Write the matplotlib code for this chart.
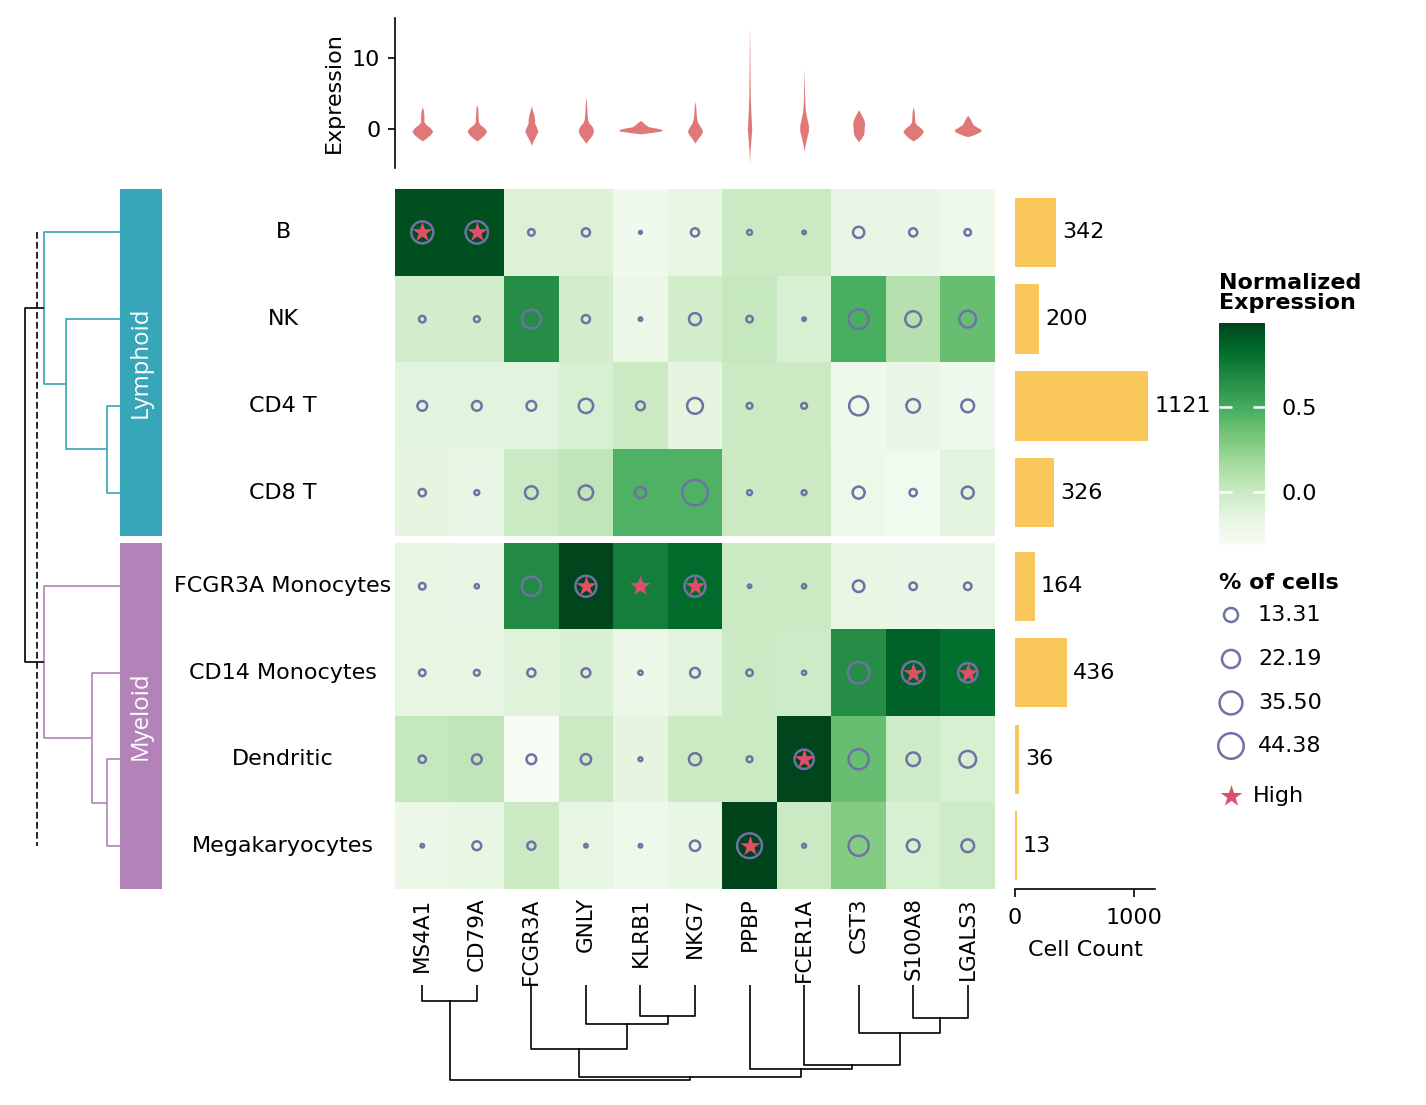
import numpy as np
import matplotlib
matplotlib.use("Agg")
import matplotlib.pyplot as plt
from matplotlib.colors import Normalize
from matplotlib.cm import ScalarMappable

W, H, DPI = 1426, 1105, 150

# ---- data ----
cells = ["B", "NK", "CD4 T", "CD8 T", "FCGR3A Monocytes", "CD14 Monocytes",
         "Dendritic", "Megakaryocytes"]
genes = ["MS4A1", "CD79A", "FCGR3A", "GNLY", "KLRB1", "NKG7", "PPBP",
         "FCER1A", "CST3", "S100A8", "LGALS3"]
groups = ["Lymphoid", "Myeloid"]
group_rows = [[0, 1, 2, 3], [4, 5, 6, 7]]
cell_count = [342, 200, 1121, 326, 164, 436, 36, 13]

expr = np.array([
    [0.94, 0.94, -0.10, -0.10, -0.25, -0.18, -0.01, -0.01, -0.19, -0.19, -0.23],
    [-0.05, -0.05, 0.65, -0.05, -0.21, -0.04, 0.02, -0.08, 0.48, 0.09, 0.38],
    [-0.14, -0.14, -0.14, -0.08, -0.01, -0.15, -0.01, -0.01, -0.23, -0.19, -0.25],
    [-0.15, -0.19, 0.00, 0.05, 0.46, 0.46, -0.01, -0.01, -0.22, -0.26, -0.14],
    [-0.17, -0.19, 0.67, 0.98, 0.73, 0.83, -0.01, 0.00, -0.18, -0.19, -0.19],
    [-0.17, -0.17, -0.12, -0.09, -0.21, -0.14, -0.01, -0.02, 0.65, 0.87, 0.81],
    [0.02, 0.05, -0.30, 0.00, -0.15, -0.01, -0.01, 0.98, 0.38, -0.02, -0.08],
    [-0.21, -0.18, -0.01, -0.17, -0.23, -0.18, 0.99, -0.01, 0.28, -0.08, -0.02],
])

pct = np.array([
    [33, 34, 2.9, 4.5, 0.5, 4.5, 1.6, 0.8, 8.5, 4.5, 2.9],
    [2.9, 2.3, 24.5, 4.5, 0.8, 9.8, 2.9, 0.8, 26.5, 17, 18.9],
    [6.4, 6.4, 6.4, 14, 5.3, 17, 2.3, 2.3, 24.5, 12.5, 11.1],
    [3.6, 1.6, 11, 14, 8.5, 44.38, 1.6, 1.6, 9.8, 3.6, 9.8],
    [2.9, 1.2, 25, 30, 4, 30, 0.8, 1.2, 9, 3.8, 3.8],
    [2.9, 2.3, 4.5, 5.3, 1.2, 6.4, 2.9, 1.2, 32, 35, 25.5],
    [3.6, 6.4, 6.4, 7.3, 1, 10, 2.3, 25.5, 27.5, 12.5, 19],
    [0.8, 5.3, 4.5, 0.8, 0.8, 7.3, 42, 1, 27.5, 11, 11],
])
pct_legend = [13.31, 22.19, 35.50, 44.38]

# (row, col) of cells marked "High"
high_cells = [(0, 0), (0, 1), (4, 3), (4, 4), (4, 5), (5, 9), (5, 10), (6, 7), (7, 6)]

# dendrograms: (left, right, distance) in linkage order
row_merges = [(2, 3, 13.3), (6, 7, 13.3), (5, 9, 28.3), (1, 8, 54),
              (0, 11, 76), (4, 10, 76), (12, 13, 95.3)]
row_link_group = [0, 1, 1, 0, 0, 1, None]
row_cut = 83.3
col_merges = [(0, 1, 16), (4, 5, 31), (3, 12, 39), (2, 13, 64), (9, 10, 33),
              (8, 15, 48), (7, 16, 80), (6, 17, 84), (14, 18, 92), (11, 19, 95)]

# violin outlines per gene: expression levels and half widths (column units)
violin_y = [
    [-1.7, -1.3, -0.8, -0.3, 0.2, 0.6, 1.0, 1.5, 2.0, 2.6, 3.1],
    [-1.7, -1.3, -0.8, -0.3, 0.2, 0.6, 1.0, 1.6, 2.4, 3.0, 3.4],
    [-2.3, -1.7, -1.0, -0.3, 0.3, 0.8, 1.3, 1.8, 2.4, 3.2],
    [-2.0, -1.4, -0.8, -0.2, 0.4, 0.9, 1.4, 2.2, 3.2, 4.5],
    [-0.7, -0.5, -0.3, -0.1, 0.1, 0.3, 0.6, 0.9, 1.2],
    [-2.0, -1.4, -0.8, -0.3, 0.3, 0.9, 1.5, 2.3, 3.1, 3.9],
    [-4.8, -3.0, -1.5, 0.0, 1.5, 3.0, 5.0, 8.0, 11.0, 14.4],
    [-3.1, -2.2, -1.2, -0.3, 0.5, 1.5, 2.5, 4.0, 6.0, 8.4],
    [-1.8, -1.3, -0.8, -0.3, 0.2, 0.8, 1.4, 2.0, 2.7],
    [-1.7, -1.3, -0.8, -0.3, 0.2, 0.6, 1.0, 1.6, 2.4, 3.1],
    [-1.1, -0.8, -0.4, -0.1, 0.2, 0.6, 1.0, 1.5, 1.9],
]
violin_w = [
    [0, 0.07, 0.15, 0.19, 0.14, 0.07, 0.03, 0.03, 0.03, 0.02, 0],
    [0, 0.07, 0.14, 0.18, 0.13, 0.06, 0.03, 0.025, 0.02, 0.015, 0],
    [0, 0.03, 0.08, 0.12, 0.09, 0.06, 0.06, 0.05, 0.03, 0],
    [0, 0.06, 0.12, 0.14, 0.11, 0.05, 0.03, 0.02, 0.015, 0],
    [0, 0.2, 0.38, 0.40, 0.30, 0.15, 0.09, 0.05, 0],
    [0, 0.05, 0.11, 0.14, 0.10, 0.05, 0.03, 0.02, 0.015, 0],
    [0, 0.01, 0.025, 0.04, 0.03, 0.02, 0.012, 0.008, 0.005, 0],
    [0, 0.02, 0.05, 0.08, 0.08, 0.05, 0.025, 0.012, 0.007, 0],
    [0, 0.05, 0.09, 0.10, 0.10, 0.11, 0.09, 0.05, 0],
    [0, 0.08, 0.15, 0.19, 0.13, 0.06, 0.03, 0.025, 0.02, 0],
    [0, 0.12, 0.23, 0.25, 0.18, 0.10, 0.07, 0.04, 0],
]

# ---- style ----
group_colors = ["#36A6B8", "#B382B9"]
ring_color = "#6E72A4"
star_color = "#E04E6E"
violin_color = "#E07878"
bar_color = "#F9C75B"
norm = Normalize(vmin=-0.31, vmax=0.99)
S_MAX = 150
FS = 10.7

plt.rcParams["font.family"] = "DejaVu Sans"
plt.rcParams["font.size"] = FS

fig = plt.figure(figsize=(W / DPI, H / DPI), dpi=DPI)


def px_axes(x0, y0, x1, y1):
    return fig.add_axes([x0 / W, 1 - y1 / H, (x1 - x0) / W, (y1 - y0) / H])


def dendro_segments(merges, leaf_pos):
    pos = list(leaf_pos)
    hgt = [0.0] * len(leaf_pos)
    segs = []
    for a, b, d in merges:
        segs.append(([pos[a], pos[a], pos[b], pos[b]], [hgt[a], d, d, hgt[b]]))
        pos.append((pos[a] + pos[b]) / 2)
        hgt.append(d)
    return segs


HX0, HX1 = 395, 995
blocks = [(189, 536), (543, 889)]
n_genes = len(genes)

# row centres in pixels (for labels / dendrogram)
row_px = []
for (y0, y1), rows in zip(blocks, group_rows):
    step = (y1 - y0) / len(rows)
    row_px += [y0 + (i + 0.5) * step for i in range(len(rows))]

# ---- heatmap blocks ----
for bi, ((y0, y1), rows) in enumerate(zip(blocks, group_rows)):
    ax = px_axes(HX0, y0, HX1, y1)
    ax.imshow(expr[rows], cmap="Greens", norm=norm, aspect="auto",
              interpolation="nearest")
    xs, ys = np.meshgrid(np.arange(n_genes), np.arange(len(rows)))
    ax.scatter(xs.ravel(), ys.ravel(), s=pct[rows].ravel() / 44.38 * S_MAX,
               facecolors="none", edgecolors=ring_color, linewidths=1.2, zorder=3)
    hr = [(r - rows[0], c) for r, c in high_cells if r in rows]
    ax.scatter([c for r, c in hr], [r for r, c in hr], marker="*", s=105,
               color=star_color, linewidths=0, zorder=4)
    ax.set_xlim(-0.5, n_genes - 0.5)
    ax.set_ylim(len(rows) - 0.5, -0.5)
    for s in ax.spines.values():
        s.set_visible(False)
    ax.set_yticks([])
    if bi == 1:
        ax.set_xticks(range(n_genes))
        ax.set_xticklabels(genes, rotation=90, fontsize=10.3)
        ax.tick_params(axis="x", length=0, pad=4)
    else:
        ax.set_xticks([])

    # group colour bar
    gax = px_axes(120, y0, 162, y1)
    gax.set_facecolor(group_colors[bi])
    gax.set_xticks([])
    gax.set_yticks([])
    for s in gax.spines.values():
        s.set_visible(False)
    gax.text(0.5, 0.5, groups[bi], rotation=90, color="white", ha="center",
             va="center", fontsize=11.5, family="Open Sans", transform=gax.transAxes)

    # cell count bars
    bax = px_axes(1015, y0, 1155, y1)
    vals = [cell_count[r] for r in rows]
    bax.barh(range(len(rows)), vals, height=0.8, color=bar_color)
    for i, v in enumerate(vals):
        bax.annotate(str(v), (v, i), xytext=(3, 0), textcoords="offset points",
                     ha="left", va="center", fontsize=FS)
    bax.set_xlim(0, max(cell_count) * 1.05)
    bax.set_ylim(len(rows) - 0.5, -0.5)
    bax.set_yticks([])
    for k in ["top", "right", "left"]:
        bax.spines[k].set_visible(False)
    if bi == 1:
        bax.set_xticks([0, 1000])
        bax.tick_params(axis="x", length=4, pad=5)
        bax.set_xlabel("Cell Count", labelpad=6)
    else:
        bax.spines["bottom"].set_visible(False)
        bax.set_xticks([])

# row labels
for name, y in zip(cells, row_px):
    fig.text(283 / W, 1 - y / H, name, ha="center", va="center", fontsize=FS)

# ---- row dendrogram ----
dax = px_axes(20, 189, 120, 889)
for (xs_, ys_), g in zip(dendro_segments(row_merges, row_px), row_link_group):
    col = "black" if g is None else group_colors[g]
    dax.plot(ys_, xs_, color=col, lw=0.8, solid_capstyle="butt")
dax.plot([row_cut, row_cut], [row_px[0], row_px[-1]], color="black", lw=0.8,
         ls=(0, (4, 2)))
dax.set_xlim(100, 0)
dax.set_ylim(889, 189)
dax.axis("off")

# ---- column dendrogram ----
cax_d = px_axes(HX0, 985, HX1, 1085)
for xs_, ys_ in dendro_segments(col_merges, range(n_genes)):
    cax_d.plot(xs_, ys_, color="black", lw=0.8)
cax_d.set_xlim(-0.5, n_genes - 0.5)
cax_d.set_ylim(100, 0)
cax_d.axis("off")

# ---- violins ----
vax = px_axes(HX0, 18, HX1, 168)
for i in range(n_genes):
    y = np.array(violin_y[i])
    w = np.array(violin_w[i])
    vax.fill_betweenx(y, i - w, i + w, color=violin_color, lw=0)
vax.set_xlim(-0.5, n_genes - 0.5)
vax.set_ylim(-5.5, 15.6)
vax.set_yticks([0, 10])
vax.set_xticks([])
vax.set_ylabel("Expression")
for k in ["top", "right", "bottom"]:
    vax.spines[k].set_visible(False)

# ---- colorbar ----
cbax = px_axes(1219, 323, 1265, 545)
cb = fig.colorbar(ScalarMappable(norm=norm, cmap="Greens"), cax=cbax)
cb.outline.set_visible(False)
cb.set_ticks([0.0, 0.5])
cbax.tick_params(axis="y", direction="in", color="white", length=6, width=1.2,
                 left=True, right=True, labelleft=False, labelright=True, pad=8)
fig.text(1219 / W, 1 - 293 / H, "Normalized\nExpression", ha="left", va="center",
         fontsize=FS, fontweight="bold", linespacing=1.0)

# ---- size / high legend ----
lax = px_axes(1200, 560, 1420, 830)
lax.set_xlim(1200, 1420)
lax.set_ylim(830, 560)
lax.axis("off")
lax.text(1219, 583, "% of cells", ha="left", va="center", fontsize=FS,
         fontweight="bold")
leg_y = [615, 659, 703, 746]
lax.scatter([1231] * 4, leg_y, s=np.array(pct_legend) / 44.38 * S_MAX,
            facecolors="none", edgecolors=ring_color, linewidths=1.2)
for v, y in zip(pct_legend, leg_y):
    lax.text(1258, y, f"{v:.2f}", ha="left", va="center", fontsize=FS)
lax.scatter([1231], [796], marker="*", s=120, color=star_color, linewidths=0)
lax.text(1253, 796, "High", ha="left", va="center", fontsize=FS)

fig.savefig("out.png", dpi=DPI)
